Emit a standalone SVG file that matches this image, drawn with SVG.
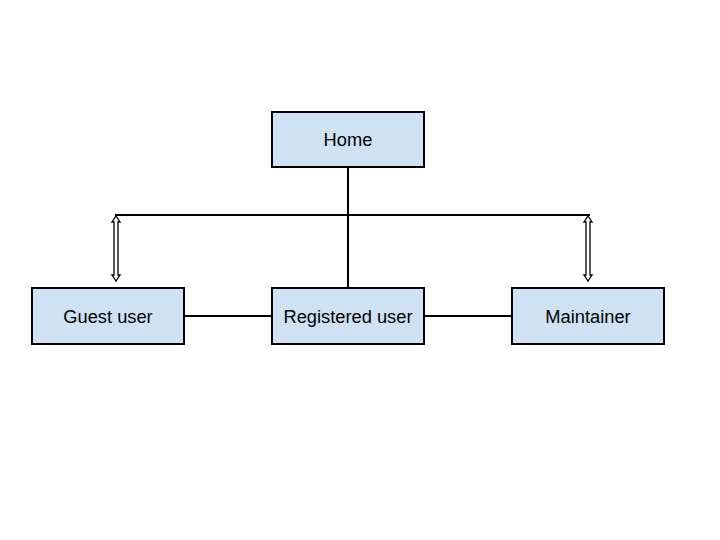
<svg xmlns="http://www.w3.org/2000/svg" width="720" height="540" viewBox="0 0 720 540">
<style>
.box{fill:#cfe2f3;stroke:#000;stroke-width:2}
.lbl{font-family:"Liberation Sans",Arial,sans-serif;font-size:18.3px;fill:#000;text-anchor:middle;dominant-baseline:central}
.ln{stroke:#000;stroke-width:2;fill:none}
.dbl{fill:#fff;stroke:#000;stroke-width:1.3;stroke-linejoin:miter}
</style>
<rect width="720" height="540" fill="#fff"/>
<g id="connectors">
<line class="ln" x1="115" y1="215" x2="590" y2="215"/>
<line class="ln" x1="348" y1="167" x2="348" y2="288"/>
<line class="ln" x1="184" y1="316" x2="272" y2="316"/>
<line class="ln" x1="424" y1="316" x2="512" y2="316"/>
<path class="dbl" d="M116 216 L120 222 L118 222 L118 275 L120 275 L116 281 L112 275 L114 275 L114 222 L112 222 Z"/>
<path class="dbl" d="M588 216 L592 222 L590 222 L590 275 L592 275 L588 281 L584 275 L586 275 L586 222 L584 222 Z"/>
</g>
<g id="home"><rect class="box" x="272" y="112" width="152" height="55"/><text class="lbl" x="348" y="139.5">Home</text></g>
<g id="guest"><rect class="box" x="32" y="288" width="152" height="56"/><text class="lbl" x="108" y="316">Guest user</text></g>
<g id="registered"><rect class="box" x="272" y="288" width="152" height="56"/><text class="lbl" x="348" y="316">Registered user</text></g>
<g id="maintainer"><rect class="box" x="512" y="288" width="152" height="56"/><text class="lbl" x="588" y="316">Maintainer</text></g>
</svg>
